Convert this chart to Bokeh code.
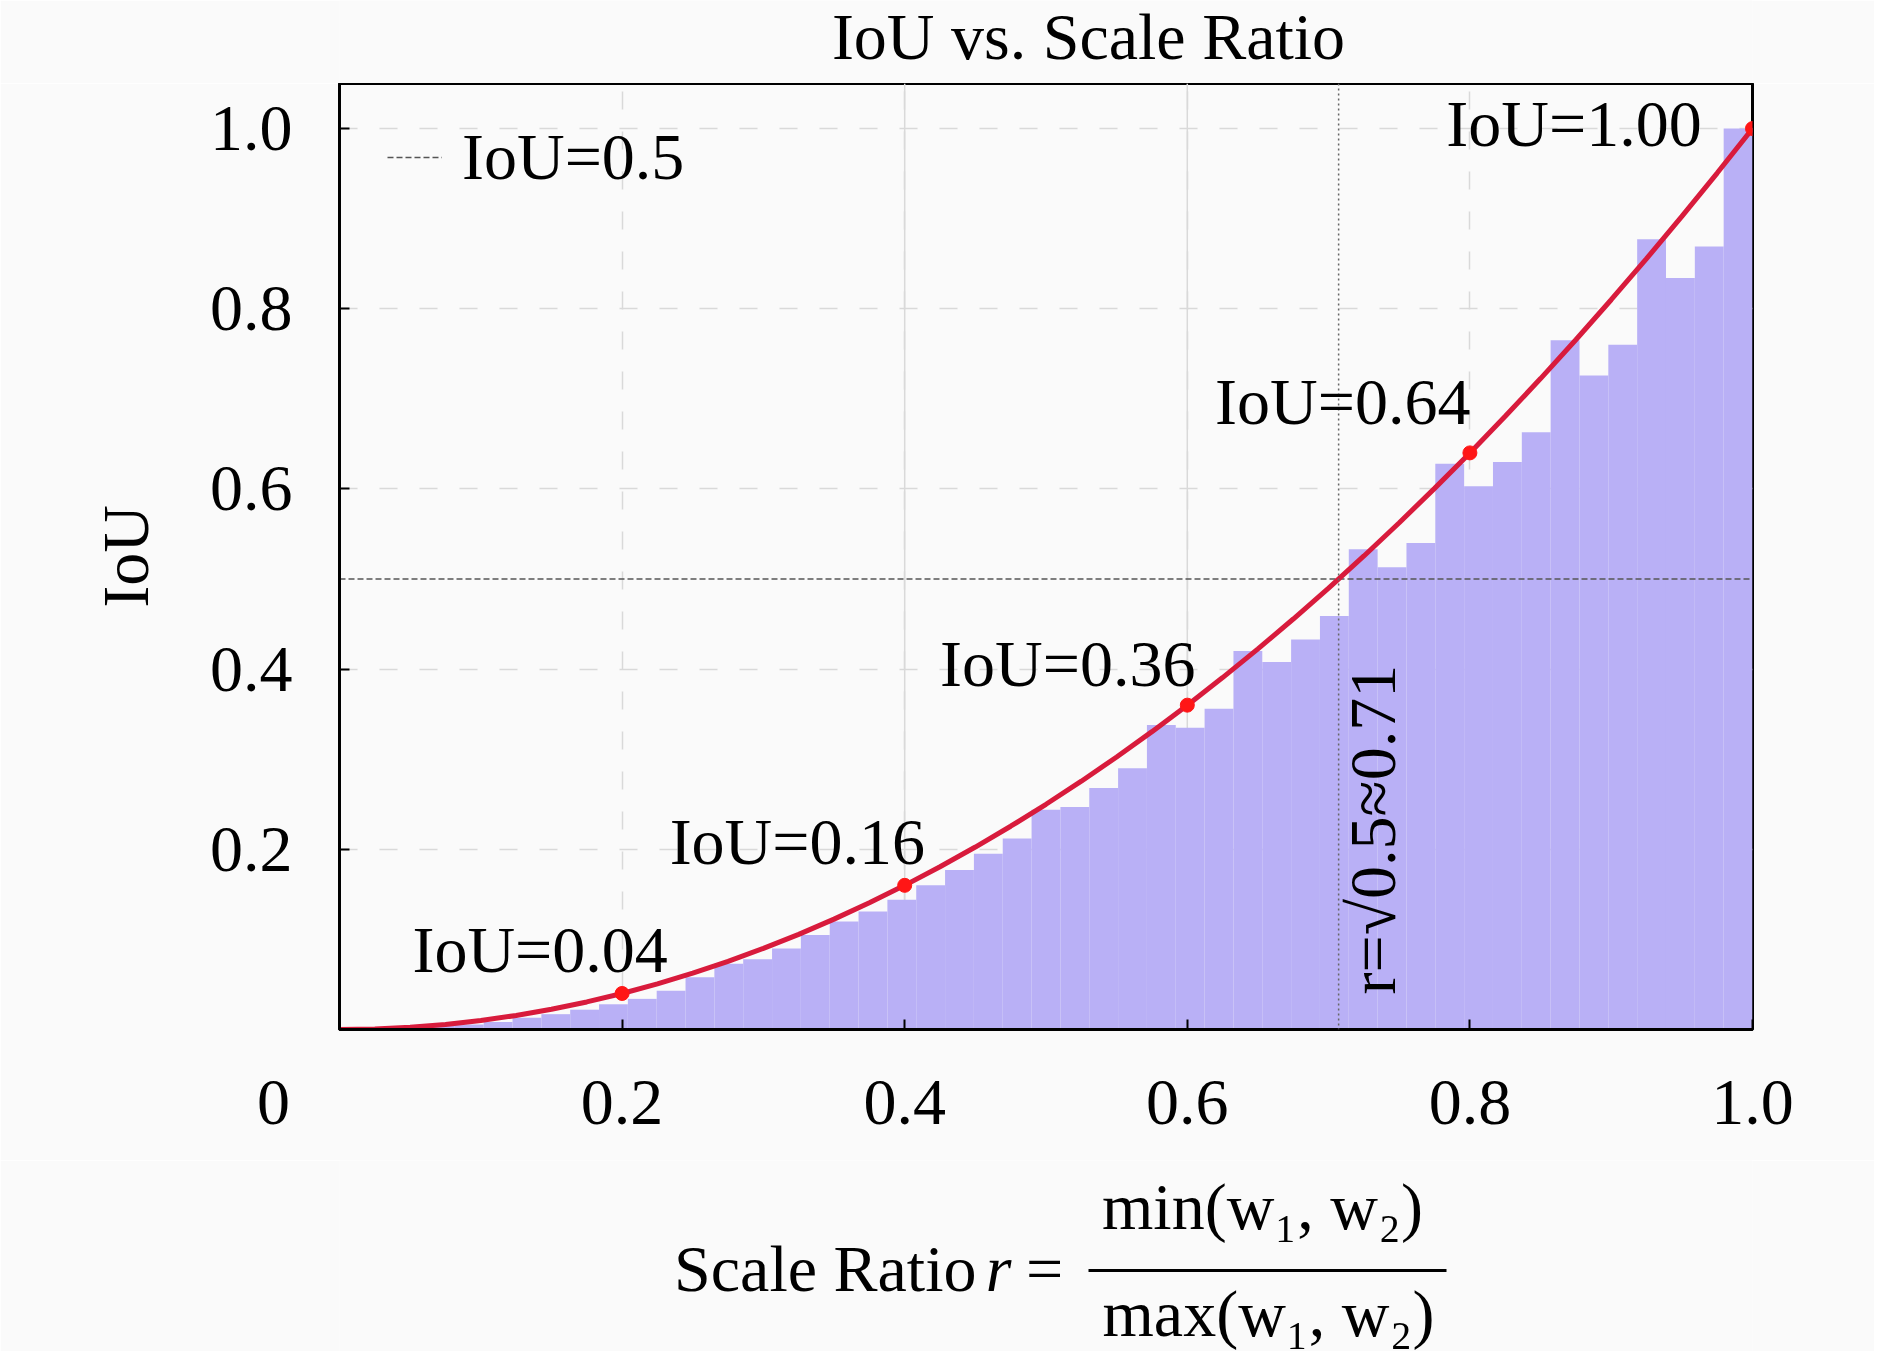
import numpy as np
from bokeh.plotting import figure
from bokeh.models import Range1d, FixedTicker, PrintfTickFormatter, Label, Span, Legend, LegendItem
from bokeh.layouts import column
from bokeh.embed import file_html
from bokeh.resources import INLINE

# ---------------- data ----------------
n_bins = 49
bin_edges = np.linspace(0.0, 1.0, n_bins + 1)
bar_iou = [0.0003, 0.0012, 0.0026, 0.0040, 0.0055, 0.0082, 0.0130, 0.0170, 0.0220, 0.0280,
           0.0340, 0.0430, 0.0580, 0.0730, 0.0780, 0.0900, 0.1050, 0.1200, 0.1310, 0.1440,
           0.1600, 0.1770, 0.1950, 0.2120, 0.2440, 0.2470, 0.2680, 0.2900, 0.3380, 0.3350,
           0.3560, 0.4200, 0.4080, 0.4330, 0.4590, 0.5330, 0.5130, 0.5400, 0.6280, 0.6030,
           0.6300, 0.6630, 0.7650, 0.7260, 0.7600, 0.8770, 0.8340, 0.8690, 1.0000]

curve_r = [0.000, 0.025, 0.050, 0.075, 0.100, 0.125, 0.150, 0.175, 0.200, 0.225,
           0.250, 0.275, 0.300, 0.325, 0.350, 0.375, 0.400, 0.425, 0.450, 0.475,
           0.500, 0.525, 0.550, 0.575, 0.600, 0.625, 0.650, 0.675, 0.700, 0.725,
           0.750, 0.775, 0.800, 0.825, 0.850, 0.875, 0.900, 0.925, 0.950, 0.975, 1.000]
curve_iou = [0.0000, 0.0006, 0.0025, 0.0056, 0.0100, 0.0156, 0.0225, 0.0306, 0.0400, 0.0506,
             0.0625, 0.0756, 0.0900, 0.1056, 0.1225, 0.1406, 0.1600, 0.1806, 0.2025, 0.2256,
             0.2500, 0.2756, 0.3025, 0.3306, 0.3600, 0.3906, 0.4225, 0.4556, 0.4900, 0.5256,
             0.5625, 0.6006, 0.6400, 0.6806, 0.7225, 0.7656, 0.8100, 0.8556, 0.9025, 0.9506, 1.0000]

mark_r = [0.2, 0.4, 0.6, 0.8, 1.0]
mark_iou = [0.04, 0.16, 0.36, 0.64, 1.00]
mark_labels = ["IoU=0.04", "IoU=0.16", "IoU=0.36", "IoU=0.64", "IoU=1.00"]

thr_x = [0.0, 1.0]
thr_y = [0.5, 0.5]
r_half = 0.7071

x_ticks = [0.0, 0.2, 0.4, 0.6, 0.8, 1.0]
y_ticks = [0.2, 0.4, 0.6, 0.8, 1.0]

# ---------------- style ----------------
FONT = "Liberation Serif"
FS = "66px"
BG = "#FAFAFA"
GRID = "#D9D9D9"
W = 1874
BL, BR = 339, 122   # frame borders (px)


def text_strip(height):
    f = figure(width=W, height=height, x_range=Range1d(BL, W - BR), y_range=Range1d(0, height),
               output_backend="svg", toolbar_location=None,
               min_border_left=BL, min_border_right=BR, min_border_top=0, min_border_bottom=0,
               x_axis_type=None, y_axis_type=None)
    f.background_fill_color = BG
    f.border_fill_color = BG
    f.outline_line_color = None
    f.xgrid.visible = False
    f.ygrid.visible = False
    return f


def lab(fig, x, y, txt, align="center", style="normal"):
    fig.add_layout(Label(x=x, y=y, text=txt, text_align=align, text_baseline="middle",
                         text_font=FONT, text_font_size=FS, text_font_style=style,
                         text_color="black"))


# ---------------- title strip ----------------
p0 = text_strip(83)
lab(p0, 1088, 47, "IoU vs. Scale Ratio")

# ---------------- main plot ----------------
p = figure(width=W, height=1077, x_range=Range1d(0, 1), y_range=Range1d(0, 1.05),
           output_backend="svg", toolbar_location=None,
           min_border_left=BL, min_border_right=BR, min_border_top=0, min_border_bottom=131)
p.background_fill_color = BG
p.border_fill_color = BG
p.outline_line_color = "black"
p.outline_line_width = 3

for ax, ticks in ((p.xaxis[0], x_ticks), (p.yaxis[0], y_ticks)):
    ax.ticker = FixedTicker(ticks=ticks)
    ax.formatter = PrintfTickFormatter(format="%.1f")
    ax.major_tick_in = 10
    ax.major_tick_out = 0
    ax.minor_tick_line_color = None
    ax.axis_line_color = "black"
    ax.axis_line_width = 3
    ax.major_tick_line_width = 2
    ax.major_label_text_font = FONT
    ax.major_label_text_font_size = FS
    ax.major_label_text_color = "black"
p.xaxis.major_label_standoff = 35
p.xaxis.major_label_overrides = {0: "0" + "\u00a0" * 8}
p.yaxis.major_label_standoff = 47
p.yaxis.axis_label = "IoU"
p.yaxis.axis_label_text_font = FONT
p.yaxis.axis_label_text_font_size = FS
p.yaxis.axis_label_text_font_style = "normal"
p.yaxis.axis_label_text_color = "black"
p.yaxis.axis_label_standoff = 45

p.xgrid.ticker = FixedTicker(ticks=x_ticks[1:])
p.ygrid.ticker = FixedTicker(ticks=y_ticks)
for g in (p.xgrid[0], p.ygrid[0]):
    g.grid_line_color = GRID
    g.grid_line_dash = "18 22"
    g.grid_line_width = 1.5
for loc in (0.4, 0.6):
    p.add_layout(Span(location=loc, dimension="height", line_color=GRID, line_width=1.5, level="underlay"))

# bars
p.quad(left=bin_edges[:-1], right=bin_edges[1:], bottom=0, top=bar_iou,
       fill_color="#B9B0F6", line_color=None)

# threshold lines
thr = p.line(thr_x, thr_y, line_color="#555555", line_dash="6 3", line_width=1.5)
p.add_layout(Span(location=r_half, dimension="height", line_color="#666666",
                  line_dash="2 3", line_width=1.5))

# curve and markers
p.line(curve_r, curve_iou, line_color="#D81B3C", line_width=5)
p.scatter(mark_r, mark_iou, size=14, color="#FF1616")

legend = Legend(items=[LegendItem(label="IoU=0.5", renderers=[thr])],
                location=(48, 834), padding=0, margin=0, spacing=0,
                glyph_width=55, glyph_height=40, label_standoff=20,
                background_fill_alpha=0, border_line_alpha=0,
                label_text_font=FONT, label_text_font_size=FS, label_text_color="black")
p.add_layout(legend)

label_pos = [(0.142, 0.089), (0.324, 0.2086), (0.5154, 0.4064), (0.710, 0.697), (0.8737, 1.006)]
for (lx, ly), txt in zip(label_pos, mark_labels):
    p.add_layout(Label(x=lx, y=ly, text=txt, text_align="center", text_baseline="middle",
                       text_font=FONT, text_font_size=FS, text_color="black"))

p.add_layout(Label(x=0.731, y=0.2218, text="r=\u221a0.5\u22480.71", angle=90, angle_units="deg",
                   text_align="center", text_baseline="middle",
                   text_font=FONT, text_font_size=FS, text_color="black"))

# ---------------- x-axis label with fraction (pixel coordinates) ----------------
p2 = text_strip(191)
lab(p2, 976, 83, "Scale Ratio", align="right")
lab(p2, 998, 83, "r", style="italic")
lab(p2, 1044, 83, "=")
lab(p2, 1262, 145, "min(w\u2081, w\u2082)")
lab(p2, 1268, 38, "max(w\u2081, w\u2082)")
p2.segment(x0=[1088], y0=[81], x1=[1446], y1=[81], line_color="black", line_width=3)

layout = column(p0, p, p2, spacing=0)
open("out.html", "w").write(file_html(layout, INLINE))
